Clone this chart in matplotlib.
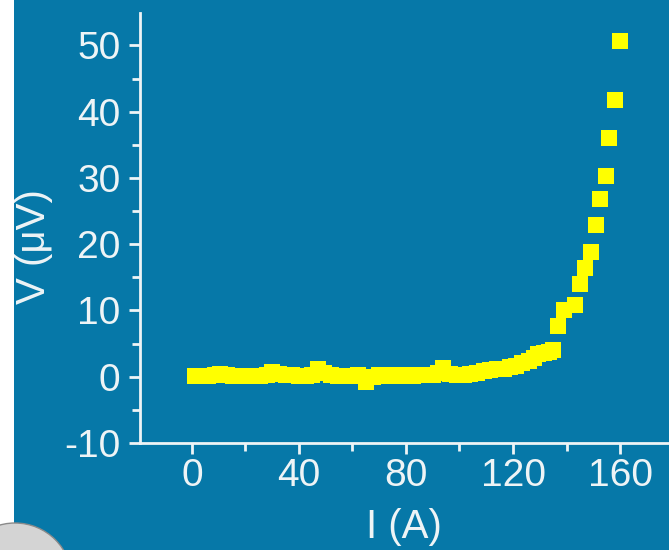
import numpy as np
import matplotlib.pyplot as plt
from matplotlib.patches import Rectangle, Ellipse
from matplotlib.ticker import MultipleLocator

# current I (A) and voltage V (uV)
I = [1, 3.5, 6, 8.5, 10.5, 13, 15.5, 18, 20.5, 23, 25.5, 28, 30, 32.5, 35,
     37.5, 40, 42.5, 45, 47, 49.5, 52, 54.5, 57, 59.5, 62, 65, 67.5, 70,
     72.5, 75, 77.5, 80, 82.5, 85, 87.5, 90, 92, 94, 96.5, 99, 101.5, 104,
     106.5, 109, 111.5, 114, 116.5, 119, 121, 123.5, 126, 128, 129.5, 131.5,
     133.5, 135, 137, 139, 143, 145, 147, 149, 151, 152.5, 154.6, 155.9,
     158.1, 160]
V = [0.1, 0.1, 0.1, 0.2, 0.35, 0.2, 0.1, 0.1, 0.1, 0.1, 0.1, 0.3, 0.75, 0.4,
     0.3, 0.2, 0.1, 0.1, 0.3, 1.15, 0.5, 0.2, 0.1, 0.1, 0.1, 0.2, -0.85, -0.1,
     0.2, 0.1, 0.2, 0.1, 0.2, 0.1, 0.3, 0.2, 0.3, 0.5, 1.25, 0.4, 0.3, 0.3,
     0.4, 0.5, 0.8, 1.0, 1.1, 1.2, 1.4, 1.6, 2.0, 2.4, 2.9, 3.5, 3.6, 3.8,
     4.05, 7.7, 10.1, 10.8, 14.0, 16.4, 18.8, 22.9, 26.8, 30.3, 36.1, 41.7,
     50.6]

bg = '#0678a8'
fg = '#eef4f6'

plt.rcParams['font.family'] = ['Liberation Sans Narrow', 'Liberation Sans', 'DejaVu Sans']
plt.rcParams['axes.unicode_minus'] = False

fig = plt.figure(figsize=(6.69, 5.5), dpi=100)
fig.patch.set_facecolor('white')
# blue panel, white strip at the left edge
fig.patches.append(Rectangle((14/669, 0), 1 - 14/669, 1, transform=fig.transFigure,
                             facecolor=bg, edgecolor='none', zorder=-2))
# bit of a logo in the bottom left corner
fig.patches.append(Ellipse((15/669, -30/550), 2*57/669, 2*57/550, transform=fig.transFigure,
                           facecolor='#d4d4d4', edgecolor='#8a8a8a', lw=1, zorder=-1))

ax = fig.add_axes([140/669, 107/550, 1 - 140/669, 430/550])
ax.set_facecolor('none')
ax.plot(I, V, 's', color='#ffff00', markersize=11.5, markeredgewidth=0, clip_on=False)

ax.set_xlim(-19.4, 178.3)
ax.set_ylim(-10, 54.9)
ax.xaxis.set_major_locator(MultipleLocator(40))
ax.xaxis.set_minor_locator(MultipleLocator(20))
ax.yaxis.set_major_locator(MultipleLocator(10))
ax.yaxis.set_minor_locator(MultipleLocator(5))

for s in ['top', 'right']:
    ax.spines[s].set_visible(False)
for s in ['left', 'bottom']:
    ax.spines[s].set_color(fg)
    ax.spines[s].set_linewidth(2)

ax.tick_params(which='major', length=8, width=2, color=fg, labelcolor=fg,
               labelsize=28, direction='out')
ax.tick_params(which='minor', length=6, width=2, color=fg, direction='out')
ax.tick_params(axis='y', pad=6)
ax.tick_params(axis='x', pad=3)

ax.set_xlabel('I (A)', color=fg, fontsize=29)
ax.set_ylabel('V (μV)', color=fg, fontsize=29)
ax.xaxis.set_label_coords(0.499, -0.15)
ax.yaxis.set_label_coords(-0.165, 0.456)

fig.savefig('out.png', dpi=100, facecolor=fig.get_facecolor())
